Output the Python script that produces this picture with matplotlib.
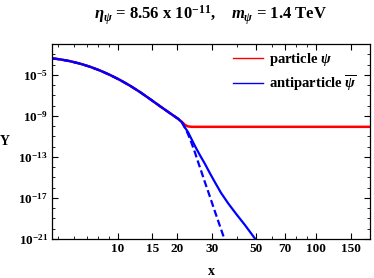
import numpy as np
import matplotlib
matplotlib.use("Agg")
import matplotlib.pyplot as plt
from matplotlib.lines import Line2D
from matplotlib.ticker import FixedLocator, NullFormatter, LogLocator

plt.rcParams['font.family'] = 'Liberation Serif'
plt.rcParams['font.weight'] = 'bold'
plt.rcParams['mathtext.fontset'] = 'custom'
plt.rcParams['mathtext.rm'] = 'Liberation Serif:bold'
plt.rcParams['mathtext.it'] = 'Liberation Serif:italic:bold'
plt.rcParams['mathtext.bf'] = 'Liberation Serif:bold'

# values (log10 of Y)
x_early = [4.68, 5.11, 5.74, 6.45, 7.25, 8.14, 9.14, 10.27, 11.54, 12.96, 14.56, 16.35, 18.36, 20.23]
logy_early = [-3.400, -3.493, -3.670, -3.910, -4.213, -4.579, -5.009, -5.501, -6.056, -6.675,
              -7.357, -8.055, -8.734, -9.297]

x_particle = [21.12, 21.88, 22.66, 23.73, 40.0, 100.0, 188.0]
logy_particle = [-9.59, -9.88, -10.03, -10.07, -10.07, -10.07, -10.07]

x_anti = [21.12, 21.88, 22.66, 23.46, 24.57, 26.04, 27.60, 29.26, 31.01, 33.24, 36.20,
          39.58, 43.96, 49.36, 53.55]
logy_anti = [-9.636, -10.14, -10.577, -11.159, -11.935, -12.837, -13.681, -14.602, -15.475,
             -16.494, -17.541, -18.531, -19.646, -20.956, -21.78]

x_anti_eq = [21.12, 21.88, 22.66, 23.46, 24.57, 25.53, 26.66, 27.60, 28.68, 29.94, 31.01,
             32.86, 34.54, 36.06]
logy_anti_eq = [-9.636, -10.17, -10.771, -11.499, -12.566, -13.536, -14.603, -15.476, -16.397,
                -17.464, -18.337, -19.743, -20.956, -22.02]

xticks = [10, 15, 20, 30, 50, 70, 100, 150]
yticks = [1e-21, 1e-17, 1e-13, 1e-9, 1e-5]
ytick_labels = [r'$10^{-21}$', r'$10^{-17}$', r'$10^{-13}$', r'$10^{-9}$', r'$10^{-5}$']

fig = plt.figure(figsize=(3.74, 2.78), dpi=100)
ax = fig.add_axes([0.1398, 0.1403, 0.9893 - 0.1398, 0.8417 - 0.1403])

xe = np.array(x_early)
ye = 10 ** np.array(logy_early)
ax.plot(np.concatenate([xe, x_particle]), np.concatenate([ye, 10 ** np.array(logy_particle)]),
        color='red', lw=1.8)
ax.plot(np.concatenate([xe, x_anti_eq]), np.concatenate([ye, 10 ** np.array(logy_anti_eq)]),
        color='blue', lw=1.6, ls=(0, (3.2, 1.5)))
ax.plot(np.concatenate([xe, x_anti]), np.concatenate([ye, 10 ** np.array(logy_anti)]),
        color='blue', lw=1.6)

ax.set_xscale('log')
ax.set_yscale('log')
ax.set_xlim(4.68, 188)
ax.set_ylim(1e-21, 1e-2)

ax.xaxis.set_major_locator(FixedLocator(xticks))
ax.set_xticklabels([str(t) for t in xticks])
ax.xaxis.set_minor_locator(LogLocator(base=10, subs=np.arange(1, 10) * 1.0))
ax.xaxis.set_minor_formatter(NullFormatter())
ax.yaxis.set_major_locator(FixedLocator(yticks))
ax.set_yticklabels(ytick_labels)
ax.yaxis.set_minor_locator(LogLocator(base=10, subs=[1.0], numticks=30))
ax.yaxis.set_minor_formatter(NullFormatter())

ax.tick_params(which='both', direction='in', top=True, right=True, labelsize=9.5, pad=3)
ax.tick_params(which='major', length=4, width=0.8)
ax.tick_params(which='minor', length=2, width=0.6)
for s in ax.spines.values():
    s.set_linewidth(0.9)

ax.set_xlabel('x', fontsize=10, fontweight='bold', labelpad=7)
ax.set_ylabel('Y', fontsize=10, fontweight='bold', rotation=0, labelpad=10, va='center')

handles = [Line2D([], [], color='red', lw=1), Line2D([], [], color='blue', lw=1)]
ax.legend(handles, [r'particle $\psi$', r'antiparticle $\overline{\psi}$'],
          loc='upper right', frameon=False, fontsize=10.5, handlelength=2.1,
          handletextpad=0.4, labelspacing=0.35, bbox_to_anchor=(1.0, 1.03))

fig.text(0.562, 0.945, r'$\eta_\psi$ = 8.56 x 10$^{-11}$,    $m_\psi$ = 1.4 TeV',
         ha='center', va='center', fontsize=12, fontweight='bold')

fig.savefig('out.png', dpi=100)
